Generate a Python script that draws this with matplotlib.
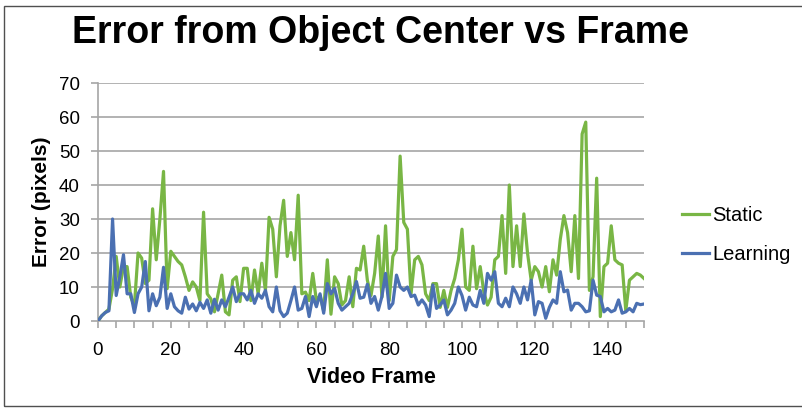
import matplotlib
matplotlib.use("Agg")
import matplotlib.pyplot as plt
from matplotlib.lines import Line2D
from matplotlib.patches import Rectangle

# Per-frame tracking error (pixels), frames 0..150
frames = list(range(151))

static_err = [
    0, 1.5, 2.5, 3.5, 9.5, 19, 10, 16, 16, 7,
    4.5, 20, 18.5, 11, 12, 33, 18, 30, 44, 9.5,
    20.5, 19, 17.5, 16.5, 13, 9, 11.5, 10, 6, 32,
    8, 6.5, 2.7, 8, 13.5, 2.7, 1.8, 12, 13, 5.7,
    15.5, 15.5, 6, 15, 8, 17, 9, 30.5, 27, 13,
    28, 35.5, 19, 26, 18, 37, 8, 8.5, 6, 14,
    6, 7.5, 3, 18, 2, 13, 11, 4.7, 6, 13,
    4.2, 15.5, 15, 22, 12, 7.5, 14, 25, 7, 28,
    6, 19, 21, 48.5, 29, 27, 8, 18, 19, 16.5,
    8, 6, 11, 11, 4, 9, 4, 9, 12.5, 18,
    27, 10, 9, 22, 9.5, 16, 8.5, 4.7, 7, 18,
    19, 31, 14, 40, 16, 28, 16, 31.5, 20, 12,
    16, 14.5, 10, 16, 8.6, 18, 13.5, 24, 31, 26,
    14.5, 31, 12.5, 55, 58.5, 9, 13, 42, 1.3, 16,
    17, 28, 18, 17, 16.5, 3, 12, 13, 14, 13.5,
    12.5,
]

learning_err = [
    0, 1.5, 2.5, 3, 30, 7.5, 13, 19.5, 8, 8,
    2.5, 8, 10, 17.5, 3, 8, 4.5, 7, 15.8, 3.7,
    8, 4.2, 3, 2.3, 7, 3.5, 5, 3, 5.5, 3.7,
    6.2, 2.3, 6.4, 3.2, 6.2, 4.2, 7, 10, 5.7, 8,
    8, 6.2, 9, 5.2, 8, 6.7, 9, 4.2, 2.7, 10,
    3, 1.3, 2.3, 6, 10, 3.2, 3.7, 7.2, 1.3, 7.2,
    4.2, 8, 2.3, 11, 8, 9.6, 5.2, 3.2, 4.2, 5.2,
    8, 11.6, 6.7, 7, 10.8, 5.2, 7.2, 3.2, 7.2, 14,
    3.7, 5.2, 13.5, 10, 9, 10, 7.2, 7.6, 4.7, 6.2,
    4.7, 1.3, 10.6, 3.7, 4.7, 6.2, 1.8, 3.2, 5.2, 10,
    7.5, 3.2, 7, 4.7, 4.2, 9, 5.2, 14, 12, 14.5,
    5.2, 4.2, 6.7, 4.2, 10, 8, 5.2, 10, 6.2, 12,
    1.8, 5.7, 5.2, 0.8, 4, 6.2, 5.2, 14.5, 8.6, 9.1,
    3.2, 5.2, 5.2, 4.2, 2.7, 3, 12, 7.6, 7.2, 2.7,
    3.7, 2.7, 3.2, 6.2, 2.3, 2.7, 3.7, 2.7, 5.2, 4.8,
    5,
]

series_names = ["Static", "Learning"]
series_colors = ["#79B645", "#4B70B2"]

x_tick_labels = ["0", "20", "40", "60", "80", "100", "120", "140"]
y_tick_labels = ["0", "10", "20", "30", "40", "50", "60", "70"]

plt.rcParams["font.family"] = ["Liberation Sans", "DejaVu Sans"]

W, H = 803, 409
fig = plt.figure(figsize=(W / 100, H / 100), dpi=100)
fig.patch.set_facecolor("white")

ax = fig.add_axes([98 / W, 1 - 321 / H, (644 - 98) / W, (321 - 83) / H])
ax.set_facecolor("white")

grid_c = "#A6A6A6"
ax.plot(frames, static_err, color=series_colors[0], lw=2.3, solid_joinstyle="round", zorder=3)
ax.plot(frames, learning_err, color=series_colors[1], lw=2.3, solid_joinstyle="round", zorder=4)

ax.set_xlim(0, 150)
ax.set_ylim(0, 70)

yt = [int(v) for v in y_tick_labels]
ax.set_yticks(yt)
ax.set_yticklabels(y_tick_labels, fontsize=13.5)
for v in yt[1:]:
    ax.axhline(v, color=grid_c, lw=1.2, zorder=1)

ax.set_xticks(range(0, 151, 5))
ax.set_xticklabels([str(v) if str(v) in x_tick_labels else "" for v in range(0, 151, 5)], fontsize=13.5)

for s in ["top", "right"]:
    ax.spines[s].set_visible(False)
for s in ["left", "bottom"]:
    ax.spines[s].set_color(grid_c)
    ax.spines[s].set_linewidth(1.2)
ax.tick_params(axis="both", direction="out", length=5, width=1.2, color=grid_c)
ax.tick_params(axis="y", pad=8)
ax.tick_params(axis="x", pad=10)

ax.set_xlabel("Video Frame", fontsize=15.5, fontweight="bold", labelpad=6)
ax.set_ylabel("Error (pixels)", fontsize=15, fontweight="bold", labelpad=6)

fig.text(381 / W, 1 - 33 / H, "Error from Object Center vs Frame",
         ha="center", va="center", fontsize=27, fontweight="bold")

handles = [Line2D([], [], color=c, lw=2.3) for c in series_colors]
fig.legend(handles, series_names, loc="center left",
           bbox_to_anchor=(668 / W, 1 - 235 / H), frameon=False, fontsize=14.5,
           handlelength=1.35, handletextpad=0.15, labelspacing=1.0,
           borderpad=0.2)

# window frame around the chart
fig.add_artist(Rectangle((4 / W, 3 / H), (W + 10) / W, (406 - 6) / H,
                         transform=fig.transFigure, fill=False,
                         edgecolor="#505050", lw=1.0))

fig.savefig("out.png", dpi=100, facecolor="white")
